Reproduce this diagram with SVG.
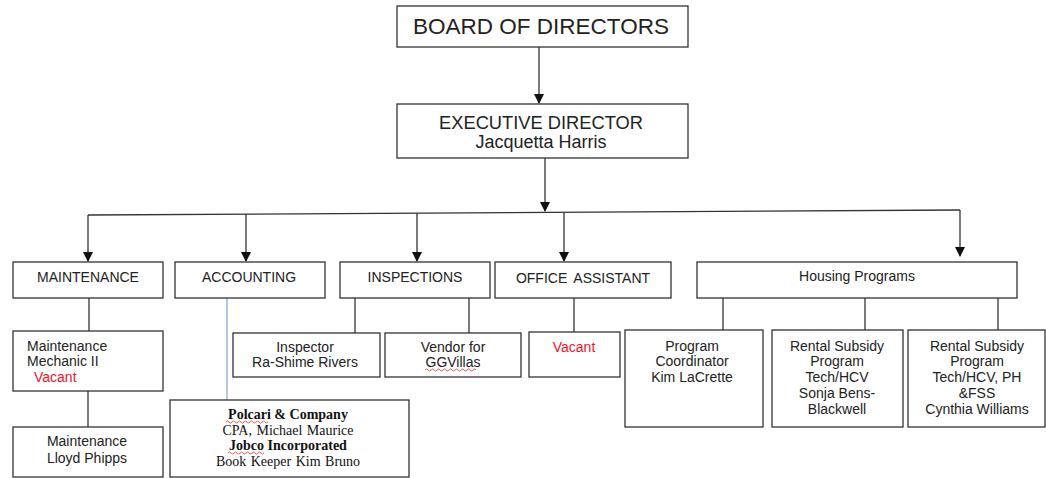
<svg xmlns="http://www.w3.org/2000/svg" width="1046" height="478" viewBox="0 0 1046 478">
<style>
.box{fill:#fff;stroke:#333;stroke-width:1.3}
.t{font-family:"Liberation Sans",Arial,sans-serif;font-size:14px;fill:#222;text-anchor:middle}
.l{text-anchor:start}
.red{fill:#f0142a}
.s{font-family:"Liberation Serif","Times New Roman",serif;font-size:14px;fill:#111;text-anchor:middle}
.b{font-weight:bold}
.c{fill:none;stroke:#333;stroke-width:1.3}
.w{fill:none;stroke:#e03030;stroke-width:0.8}
</style>
<defs>
<marker id="ah" markerWidth="10" markerHeight="10" refX="9" refY="5" orient="auto" markerUnits="userSpaceOnUse">
<path d="M0,0 L10,5 L0,10 z" fill="#111"/>
</marker>
</defs>
<rect width="1046" height="478" fill="#fff"/>
<g id="connectors">
<line class="c" x1="539" y1="47" x2="539" y2="103" marker-end="url(#ah)"/>
<line class="c" x1="545" y1="158" x2="545" y2="211" marker-end="url(#ah)"/>
<path class="c" d="M88,215 L960,210"/>
<line class="c" x1="88" y1="215" x2="88" y2="261" marker-end="url(#ah)"/>
<line class="c" x1="246" y1="214" x2="246" y2="261" marker-end="url(#ah)"/>
<line class="c" x1="417" y1="213" x2="417" y2="261" marker-end="url(#ah)"/>
<line class="c" x1="564" y1="213" x2="564" y2="261" marker-end="url(#ah)"/>
<line class="c" x1="960" y1="210" x2="960" y2="256" marker-end="url(#ah)"/>
<line class="c" x1="89" y1="298" x2="89" y2="331"/>
<line class="c" x1="88" y1="391" x2="88" y2="427"/>
<line x1="227" y1="298" x2="227" y2="400" stroke="#8eaad4" stroke-width="1.3"/>
<line class="c" x1="355" y1="298" x2="355" y2="333"/>
<line class="c" x1="469" y1="298" x2="469" y2="333"/>
<line class="c" x1="574" y1="298" x2="574" y2="332"/>
<line class="c" x1="723" y1="298" x2="723" y2="330"/>
<line class="c" x1="865" y1="298" x2="865" y2="330"/>
<line class="c" x1="998" y1="298" x2="998" y2="330"/>
</g>
<g id="board">
<rect class="box" x="397" y="6" width="291" height="41"/>
<text class="t" x="541" y="34" style="font-size:22.5px">BOARD OF DIRECTORS</text>
</g>
<g id="executive">
<rect class="box" x="397" y="104" width="291" height="54"/>
<text class="t" x="541" y="129" style="font-size:18.3px">EXECUTIVE DIRECTOR</text>
<text class="t" x="541" y="148" style="font-size:18px">Jacquetta Harris</text>
</g>
<g id="maintenance">
<rect class="box" x="13" y="262" width="150" height="36"/>
<text class="t" x="88" y="282">MAINTENANCE</text>
</g>
<g id="accounting">
<rect class="box" x="175" y="262" width="150" height="36"/>
<text class="t" x="249" y="282">ACCOUNTING</text>
</g>
<g id="inspections">
<rect class="box" x="340" y="262" width="150" height="36"/>
<text class="t" x="415" y="282">INSPECTIONS</text>
</g>
<g id="office-assistant">
<rect class="box" x="495" y="262" width="176" height="36"/>
<text class="t" x="583" y="283" style="word-spacing:3px">OFFICE ASSISTANT</text>
</g>
<g id="housing">
<rect class="box" x="697" y="262" width="320" height="36"/>
<text class="t" x="857" y="281">Housing Programs</text>
</g>
<g id="mechanic">
<rect class="box" x="13" y="331" width="150" height="60"/>
<text class="t l" x="27" y="351">Maintenance</text>
<text class="t l" x="27" y="366">Mechanic II</text>
<text class="t l red" x="34" y="382">Vacant</text>
</g>
<g id="lloyd">
<rect class="box" x="13" y="427" width="150" height="50"/>
<text class="t" x="87" y="446">Maintenance</text>
<text class="t" x="87" y="463">Lloyd Phipps</text>
</g>
<g id="inspector">
<rect class="box" x="233" y="333" width="147" height="44"/>
<text class="t" x="305" y="352">Inspector</text>
<text class="t" x="305" y="367">Ra-Shime Rivers</text>
</g>
<g id="vendor">
<rect class="box" x="385" y="333" width="136" height="44"/>
<text class="t" x="453" y="352">Vendor for</text>
<text class="t" x="453" y="367">GGVillas</text>
<path class="w" d="M425,370 q1.5,-2 3,0 t3,0 t3,0 t3,0 t3,0 t3,0 t3,0 t3,0 t3,0 t3,0 t3,0 t3,0 t3,0 t3,0 t3,0 t3,0 t3,0"/>
</g>
<g id="office-vacant">
<rect class="box" x="529" y="332" width="91" height="45"/>
<text class="t red" x="574" y="352">Vacant</text>
</g>
<g id="polcari">
<rect class="box" x="170" y="400" width="239" height="77"/>
<text class="s b" x="288" y="419">Polcari &amp; Company</text>
<text class="s" x="288" y="435" style="word-spacing:1px">CPA, Michael Maurice</text>
<text class="s b" x="288" y="450">Jobco Incorporated</text>
<text class="s" x="288" y="466" style="word-spacing:1px">Book Keeper Kim Bruno</text>
<path class="w" d="M226,422 q1.5,-2 3,0 t3,0 t3,0 t3,0 t3,0 t3,0 t3,0 t3,0 t3,0 t3,0 t3,0 t3,0 t3,0 t3,0"/>
<path class="w" d="M228,453 q1.5,-2 3,0 t3,0 t3,0 t3,0 t3,0 t3,0 t3,0 t3,0 t3,0 t3,0 t3,0 t3,0"/>
</g>
<g id="coordinator">
<rect class="box" x="625" y="330" width="138" height="97"/>
<text class="t" x="692" y="351">Program</text>
<text class="t" x="692" y="366">Coordinator</text>
<text class="t" x="692" y="382">Kim LaCrette</text>
</g>
<g id="rental-hcv">
<rect class="box" x="772" y="330" width="131" height="97"/>
<text class="t" x="837" y="351">Rental Subsidy</text>
<text class="t" x="837" y="366">Program</text>
<text class="t" x="837" y="382">Tech/HCV</text>
<text class="t" x="837" y="398">Sonja Bens-</text>
<text class="t" x="837" y="414">Blackwell</text>
</g>
<g id="rental-ph">
<rect class="box" x="908" y="330" width="137" height="97"/>
<text class="t" x="977" y="351">Rental Subsidy</text>
<text class="t" x="977" y="366">Program</text>
<text class="t" x="977" y="382">Tech/HCV, PH</text>
<text class="t" x="977" y="398">&amp;FSS</text>
<text class="t" x="977" y="414">Cynthia Williams</text>
</g>
</svg>
